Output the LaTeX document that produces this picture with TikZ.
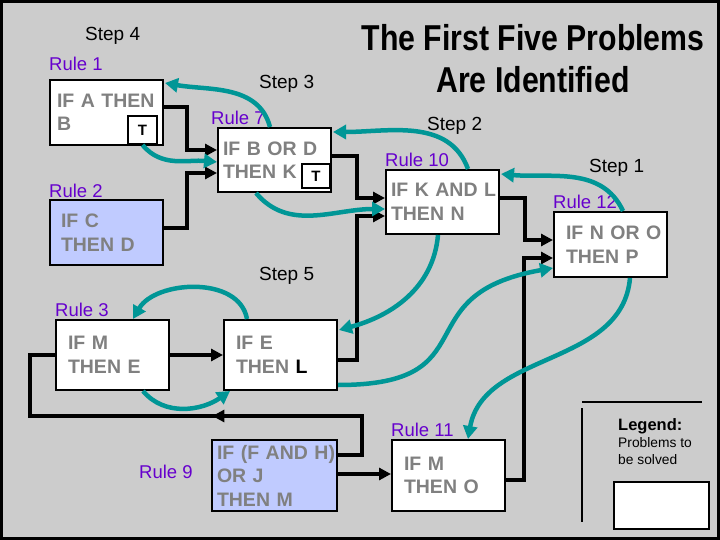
\documentclass[tikz,border=0pt]{standalone}
\usepackage{fontspec}
\setmainfont{Liberation Sans}
\usepackage{xcolor}
\usepackage{tikz}
\usetikzlibrary{positioning, arrows.meta, calc, decorations.markings}
\definecolor{RBGray}{RGB}{204,204,204}
\definecolor{RBBlue}{RGB}{192,203,255}
\definecolor{RBPurple}{RGB}{102,0,204}
\definecolor{RBTeal}{RGB}{0,150,150}
\definecolor{RBText}{RGB}{128,128,128}
\newcommand{\squeeze}[1]{\scalebox{0.84}[1]{#1}}

\begin{document}
\begin{tikzpicture}[x=1pt, y=1pt,
            rulebox/.style={rectangle, draw=black, line width=2pt, fill=white,
                            anchor=north west, text=RBText, align=left, inner ysep=2pt,
                            font=\bfseries\fontsize{19.5}{23.5}\selectfont},
            tbox/.style={rectangle, draw=black, line width=2pt, fill=white,
                         anchor=north west, inner sep=0pt,
                         font=\bfseries\fontsize{15}{15}\selectfont},
            rulelbl/.style={anchor=base west, inner sep=0pt, text=RBPurple,
                            font=\fontsize{18.5}{20}\selectfont},
            steplbl/.style={anchor=base west, inner sep=0pt,
                            font=\fontsize{19}{20}\selectfont},
            headline/.style={anchor=north, inner sep=0pt, align=center,
                             font=\bfseries\fontsize{36}{42}\selectfont},
            wire/.style={line width=4pt},
            flow/.style={wire, -{Triangle[length=12pt,width=12pt]}},
            chain/.style={draw=RBTeal, line width=4.5pt,
                          -{Triangle[length=13pt,width=14pt]}}
          ]
          \useasboundingbox (0,0) rectangle (720,-540);
          % Background and frame
          \fill[RBGray] (0,0) rectangle (720,-540);
          \draw[line width=3pt] (1.5,-1.5) rectangle (718.5,-538.5);
          % Title
          \node[headline] (title) at (533,-24)
            {\squeeze{The First Five Problems}\\\squeeze{Are Identified}};
          % Steps
          \foreach \n/\x/\y in {4/85/41, 3/259/89, 2/427/131, 1/589/173, 5/259/280} {
            \node[steplbl] (step\n) at (\x,-\y) {Step \n};
          }
          % Rule labels
          \foreach \n/\x/\y in {1/49/71, 2/49/197, 7/211/125, 10/385/167,
                                12/553/209, 3/55/316, 9/139/478, 11/391/436} {
            \node[rulelbl] (lbl\n) at (\x,-\y) {Rule \n};
          }
          % Rule boxes
          \node[rulebox, minimum width=113, minimum height=65, inner xsep=7, text width=99]
            (r1) at (49,-79) {IF A THEN\\B};
          \node[rulebox, fill=RBBlue, minimum width=113, minimum height=65, inner xsep=11, text width=91]
            (r2) at (49,-199) {IF C\\THEN D};
          \node[rulebox, minimum width=113, minimum height=64, inner xsep=5, text width=103]
            (r7) at (217,-127) {IF B OR D\\THEN K};
          \node[rulebox, minimum width=113, minimum height=64, inner xsep=5, text width=103]
            (r10) at (385,-169) {IF~K~AND~L\\THEN N};
          \node[rulebox, minimum width=113, minimum height=65, inner xsep=12, text width=89]
            (r12) at (553,-211) {IF~N~OR~O\\THEN P};
          \node[rulebox, minimum width=113, minimum height=70, inner xsep=12, text width=89]
            (r3) at (55,-319) {IF M\\THEN E};
          \node[rulebox, minimum width=113, minimum height=70, inner xsep=12, text width=89]
            (rE) at (223,-319) {IF E\\THEN {\color{black}L}};
          \node[rulebox, fill=RBBlue, minimum width=125, minimum height=71, inner xsep=5, text width=115]
            (r9) at (211,-439) {IF~(F~AND~H)\\OR J\\THEN M};
          \node[rulebox, minimum width=113, minimum height=71, inner xsep=12, text width=89]
            (r11) at (391,-439) {IF M\\THEN O};
          % Triggered marks
          \node[tbox, minimum width=29, minimum height=28] (t1) at (127,-115) {T};
          \node[tbox, minimum width=28, minimum height=24] (t7) at (301,-163) {T};
          % Forward links
          \draw[flow] ($(r1.north east)+(0,-28)$) -- ++(23,0) |- ($(r7.north west)+(0,-23)$);
          \draw[flow] ($(r2.north east)+(0,-29)$) -- ++(23,0) |- ($(r7.north west)+(0,-46)$);
          \draw[flow] ($(r7.north east)+(0,-29)$) -- ++(25,0) |- ($(r10.north west)+(0,-29)$);
          \draw[flow] ($(rE.north east)+(0,-41)$) -- ++(19,0) |- ($(r10.north west)+(0,-47)$);
          \draw[flow] ($(r10.north east)+(0,-29)$) -- ++(25,0) |- ($(r12.north west)+(0,-29)$);
          \draw[flow] ($(r11.north east)+(0,-41)$) -- ++(18,0) |- ($(r12.north west)+(0,-47)$);
          \draw[flow] (r3.east) -- (rE.west);
          \draw[flow] ($(r9.north east)+(0,-35)$) -- ($(r11.north west)+(0,-35)$);
          \draw[wire, postaction={decorate, decoration={markings,
                mark=at position 0.442 with {\arrow{Triangle[length=12pt,width=12pt]}}}}]
            ($(r9.north east)+(0,-16)$) -- ++(24,0) |- ($(r3.south west)+(-25,-25)$) |- (r3.west);
          % Backward chaining
          \draw[chain] ($(r7.north west)+(53,0)$) to[out=105, in=-10] ($(r1.north east)+(1,-4)$);
          \draw[chain] (t1.south) to[out=-50, in=175] ($(r7.north west)+(0,-35)$);
          \draw[chain] ($(r10.north west)+(83,0)$) to[out=110, in=0] ($(r7.north east)+(1,-5)$);
          \draw[chain] ($(r7.south west)+(39,0)$) to[out=-50, in=180] ($(r10.north west)+(0,-40)$);
          \draw[chain] ($(r12.north west)+(70,0)$) to[out=115, in=-5] ($(r10.north east)+(1,-5)$);
          \draw[chain] ($(r10.south west)+(53,0)$) to[out=-95, in=15] ($(rE.north east)+(1,-11)$);
          \draw[chain] ($(rE.south east)+(0,6)$) to[out=0, in=190, looseness=1.6] ($(r12.north west)+(0,-57)$);
          \draw[chain] ($(r12.south west)+(77,0)$) to[out=-95, in=80] ($(r11.north west)+(77,0)$);
          \draw[chain] ($(rE.north west)+(24,0)$) to[out=100, in=60] ($(r3.north west)+(78,0)$);
          \draw[chain] ($(r3.south west)+(88,0)$) to[out=-50, in=215] ($(rE.south west)+(7,0)$);
          % Legend
          \draw[line width=2pt] (582,-402) -- (702,-402);
          \draw[line width=2pt] (582,-408) -- (582,-522);
          \node[anchor=base west, inner sep=0pt, font=\bfseries\fontsize{16.5}{18}\selectfont]
            (lgtitle) at (618,-430) {Legend:};
          \node[anchor=north west, inner sep=0pt, align=left, font=\fontsize{13.8}{17}\selectfont]
            (lgtext) at (618,-437) {Problems to\\be solved};
          \node[rectangle, draw=black, line width=2pt, fill=white, anchor=north west,
                minimum width=95, minimum height=47] (lg) at (613,-481) {};
        \end{tikzpicture}
\end{document}
